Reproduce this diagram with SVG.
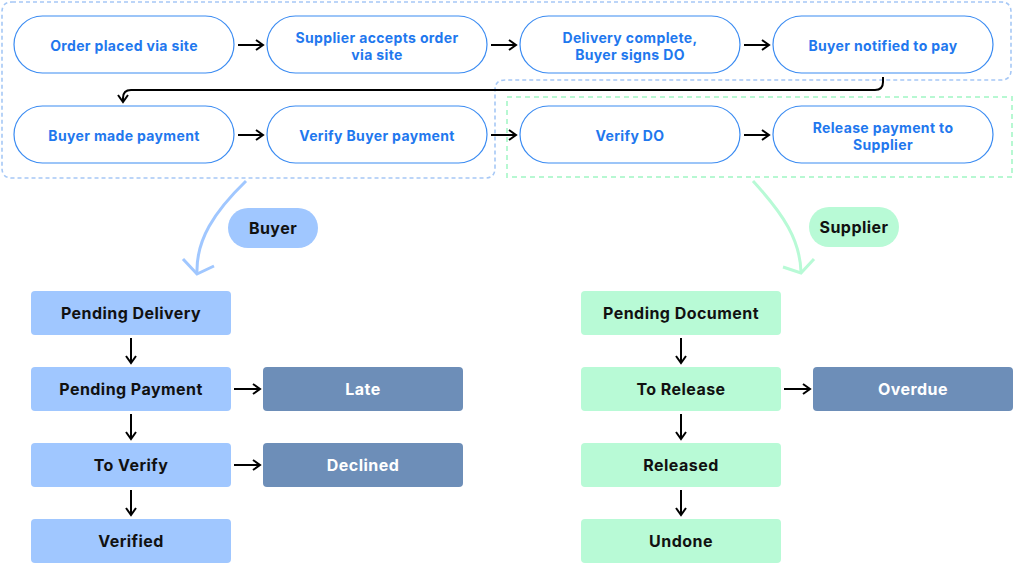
<svg xmlns="http://www.w3.org/2000/svg" width="1014" height="563" viewBox="0 0 1014 563">
<defs>
<style>
.pill{fill:#fff;stroke:#3a8bf2;stroke-width:1.2}
.pt{font-family:Inter,"Noto Sans",sans-serif;font-weight:700;font-size:14px;letter-spacing:0.35px;fill:#1f78ee;text-anchor:middle;dominant-baseline:central}
.bt{font-family:Inter,"Noto Sans",sans-serif;font-weight:700;font-size:16px;letter-spacing:0.45px;fill:#111;text-anchor:middle;dominant-baseline:central}
.wt{font-family:Inter,"Noto Sans",sans-serif;font-weight:700;font-size:16px;letter-spacing:0.45px;fill:#fff;text-anchor:middle;dominant-baseline:central}
.lb{fill:#a0c7ff}
.lg{fill:#b8fad6}
.dk{fill:#6d8eb8}
.arr{fill:none;stroke:#000;stroke-width:2}
</style>
<marker id="ah" viewBox="0 0 12 12" refX="10" refY="6" markerWidth="12" markerHeight="12" markerUnits="userSpaceOnUse" orient="auto">
<path d="M3,1 L10,6 L3,11" fill="none" stroke="#000" stroke-width="2"/>
</marker>
</defs>
<rect width="1014" height="563" fill="#fff"/>
<g id="containers">
<path d="M12,2 H1001 Q1011,2 1011,12 V70 Q1011,80 1001,80 H505 Q495,80 495,90 V168 Q495,178 485,178 H12 Q2,178 2,168 V12 Q2,2 12,2 Z" fill="none" stroke="#a6c8f6" stroke-width="1.6" stroke-dasharray="4 3"/>
<rect x="507" y="97" width="505" height="80" fill="none" stroke="#b7f8d2" stroke-width="2" stroke-dasharray="5 4"/>
</g>
<g id="connectors">
<line class="arr" x1="238" y1="45" x2="263" y2="45" marker-end="url(#ah)"/>
<line class="arr" x1="491" y1="45" x2="516" y2="45" marker-end="url(#ah)"/>
<line class="arr" x1="744" y1="45" x2="769" y2="45" marker-end="url(#ah)"/>
<path class="arr" d="M883,77 V82 Q883,90 875,90 H131 Q123,90 123,98 V102" marker-end="url(#ah)"/>
<line class="arr" x1="238" y1="135" x2="263" y2="135" marker-end="url(#ah)"/>
<line class="arr" x1="491" y1="135" x2="516" y2="135" marker-end="url(#ah)"/>
<line class="arr" x1="744" y1="135" x2="769" y2="135" marker-end="url(#ah)"/>
<path d="M246,181 C214,212 196,240 197,273" fill="none" stroke="#a0c7ff" stroke-width="3"/>
<path d="M183,259 L197,274 L214,266" fill="none" stroke="#a0c7ff" stroke-width="3"/>
<path d="M753,181 C784,215 800,240 801,272" fill="none" stroke="#b8fad6" stroke-width="3"/>
<path d="M783,267 L801,273 L814,259" fill="none" stroke="#b8fad6" stroke-width="3"/>
<line class="arr" x1="131" y1="338" x2="131" y2="363" marker-end="url(#ah)"/>
<line class="arr" x1="131" y1="414" x2="131" y2="439" marker-end="url(#ah)"/>
<line class="arr" x1="131" y1="490" x2="131" y2="515" marker-end="url(#ah)"/>
<line class="arr" x1="234" y1="389" x2="260" y2="389" marker-end="url(#ah)"/>
<line class="arr" x1="234" y1="465" x2="260" y2="465" marker-end="url(#ah)"/>
<line class="arr" x1="681" y1="338" x2="681" y2="363" marker-end="url(#ah)"/>
<line class="arr" x1="681" y1="414" x2="681" y2="439" marker-end="url(#ah)"/>
<line class="arr" x1="681" y1="490" x2="681" y2="515" marker-end="url(#ah)"/>
<line class="arr" x1="784" y1="389" x2="810" y2="389" marker-end="url(#ah)"/>
</g>
<g id="n1"><rect class="pill" x="14" y="16" width="220" height="57" rx="28.5"/><text class="pt" x="124" y="45">Order placed via site</text></g>
<g id="n2"><rect class="pill" x="267" y="16" width="220" height="57" rx="28.5"/><text class="pt" x="377" y="37">Supplier accepts order</text><text class="pt" x="377" y="54">via site</text></g>
<g id="n3"><rect class="pill" x="520" y="16" width="220" height="57" rx="28.5"/><text class="pt" x="630" y="37">Delivery complete,</text><text class="pt" x="630" y="54">Buyer signs DO</text></g>
<g id="n4"><rect class="pill" x="773" y="16" width="220" height="57" rx="28.5"/><text class="pt" x="883" y="45">Buyer notified to pay</text></g>
<g id="n5"><rect class="pill" x="14" y="106" width="220" height="57" rx="28.5"/><text class="pt" x="124" y="135">Buyer made payment</text></g>
<g id="n6"><rect class="pill" x="267" y="106" width="220" height="57" rx="28.5"/><text class="pt" x="377" y="135">Verify Buyer payment</text></g>
<g id="n7"><rect class="pill" x="520" y="106" width="220" height="57" rx="28.5"/><text class="pt" x="630" y="135">Verify DO</text></g>
<g id="n8"><rect class="pill" x="773" y="106" width="220" height="57" rx="28.5"/><text class="pt" x="883" y="127">Release payment to</text><text class="pt" x="883" y="144">Supplier</text></g>
<g id="buyer"><rect class="lb" x="228" y="208" width="90" height="40" rx="20"/><text class="bt" x="273" y="228">Buyer</text></g>
<g id="supplier"><rect class="lg" x="809" y="207" width="90" height="40" rx="20"/><text class="bt" x="854" y="227">Supplier</text></g>
<g id="b1"><rect class="lb" x="31" y="291" width="200" height="44" rx="4"/><text class="bt" x="131" y="313">Pending Delivery</text></g>
<g id="b2"><rect class="lb" x="31" y="367" width="200" height="44" rx="4"/><text class="bt" x="131" y="389">Pending Payment</text></g>
<g id="b3"><rect class="lb" x="31" y="443" width="200" height="44" rx="4"/><text class="bt" x="131" y="465">To Verify</text></g>
<g id="b4"><rect class="lb" x="31" y="519" width="200" height="44" rx="4"/><text class="bt" x="131" y="541">Verified</text></g>
<g id="late"><rect class="dk" x="263" y="367" width="200" height="44" rx="4"/><text class="wt" x="363" y="389">Late</text></g>
<g id="declined"><rect class="dk" x="263" y="443" width="200" height="44" rx="4"/><text class="wt" x="363" y="465">Declined</text></g>
<g id="s1"><rect class="lg" x="581" y="291" width="200" height="44" rx="4"/><text class="bt" x="681" y="313">Pending Document</text></g>
<g id="s2"><rect class="lg" x="581" y="367" width="200" height="44" rx="4"/><text class="bt" x="681" y="389">To Release</text></g>
<g id="s3"><rect class="lg" x="581" y="443" width="200" height="44" rx="4"/><text class="bt" x="681" y="465">Released</text></g>
<g id="s4"><rect class="lg" x="581" y="519" width="200" height="44" rx="4"/><text class="bt" x="681" y="541">Undone</text></g>
<g id="overdue"><rect class="dk" x="813" y="367" width="200" height="44" rx="4"/><text class="wt" x="913" y="389">Overdue</text></g>
</svg>
